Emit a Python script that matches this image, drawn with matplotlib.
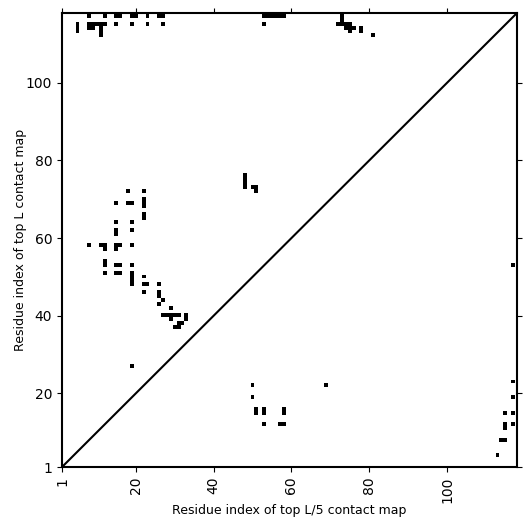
import numpy as np
import matplotlib
matplotlib.use('Agg')
import matplotlib.pyplot as plt

L = 118

# contacts of the top L map (upper-left triangle): x = residue i, y = residue j
top_L_x = [5, 5, 5, 8, 8, 9, 10, 8, 9, 11, 11, 11, 11, 12, 12,
           15, 16, 15, 19, 20, 19, 23, 23, 26, 27, 27,
           54, 56, 57, 58, 53, 54, 55, 56, 57, 58, 53,
           73, 73, 73, 72, 73, 74, 75, 74, 75, 76, 75, 78, 78, 81,
           48, 48, 48, 48, 50, 51, 51,
           18, 22, 15, 18, 19, 22, 22, 22, 22, 22, 15, 19, 15, 15, 19,
           8, 11, 12, 12, 15, 16, 15, 19,
           12, 12, 15, 16, 19,
           12, 15, 16, 19, 19, 19, 19, 22, 22, 23, 26, 22, 26, 26, 26, 27, 29,
           27, 28, 29, 30, 31, 29, 33, 33, 31, 32, 30, 31, 19]
top_L_y = [113, 114, 115, 117, 115, 115, 115, 114, 114, 112, 113, 114, 115, 115, 117,
           117, 117, 115, 117, 117, 115, 117, 115, 117, 117, 115,
           118, 118, 118, 118, 117, 117, 117, 117, 117, 117, 115,
           118, 117, 116, 115, 115, 115, 115, 114, 114, 114, 113, 113, 114, 112,
           73, 74, 75, 76, 73, 73, 72,
           72, 72, 69, 69, 69, 68, 69, 70, 65, 66, 64, 64, 61, 62, 62,
           58, 58, 58, 57, 58, 58, 57, 58,
           53, 54, 53, 53, 53,
           51, 51, 51, 48, 49, 50, 51, 50, 48, 48, 48, 46, 45, 46, 43, 44, 42,
           40, 40, 40, 40, 40, 39, 39, 40, 38, 38, 37, 37, 27]

# contacts of the top L/5 map (lower-right triangle)
top_L5_x = [50, 69, 50, 51, 51, 53, 53, 58, 58, 53, 57, 58,
            117, 117, 117, 115, 117, 115, 115, 117, 114, 115, 113]
top_L5_y = [22, 22, 19, 15, 16, 15, 16, 15, 16, 12, 12, 12,
            53, 23, 19, 15, 15, 11, 12, 12, 8, 8, 4]

ticks = [1, 20, 40, 60, 80, 100]

cmap = np.zeros((L + 1, L + 1))
for i, j in zip(top_L_x, top_L_y):
    cmap[j, i] = 1
for i, j in zip(top_L5_x, top_L5_y):
    cmap[j, i] = 1

fig = plt.figure(figsize=(5.31, 5.31), dpi=100)
ax = fig.add_axes([0.1168, 0.1205, 0.8568, 0.855])
ax.imshow(cmap, cmap='binary', origin='lower', interpolation='nearest',
          extent=[-0.5, L + 0.5, -0.5, L + 0.5], aspect='auto', vmin=0, vmax=1)
ax.plot([1, L], [1, L], color='black', linewidth=1.5)
ax.set_xlim(1, L)
ax.set_ylim(1, L)
ax.set_xticks(ticks)
ax.set_yticks(ticks)
ax.set_xticklabels(ticks, rotation=90)
ax.tick_params(top=True, right=True, direction='out', labelsize=10)
for s in ax.spines.values():
    s.set_linewidth(1.5)
ax.set_xlabel('Residue index of top L/5 contact map', fontsize=9, labelpad=0.5)
ax.set_ylabel('Residue index of top L contact map', fontsize=9, labelpad=-1)
fig.savefig('out.png', dpi=100)
